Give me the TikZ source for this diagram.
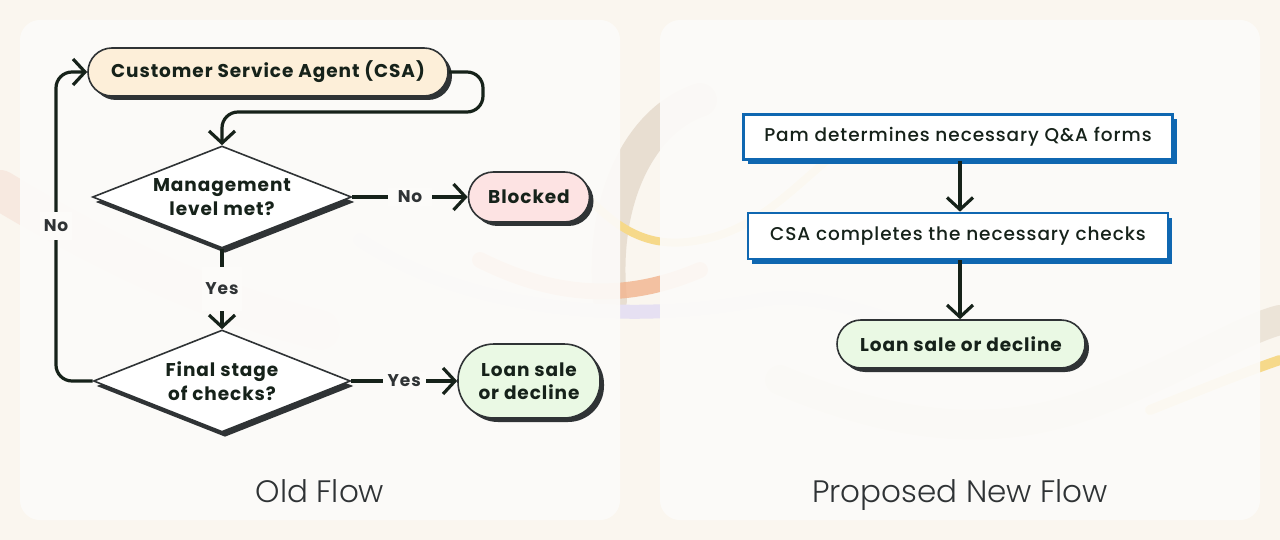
\documentclass[tikz,border=0pt]{standalone}
\usepackage{fontspec}
\setmainfont{Poppins}[LetterSpace=5]
\newfontfamily\titlefont{Poppins Light}
\newfontfamily\medfont{Poppins Medium}[LetterSpace=5]
\usetikzlibrary{shapes.geometric,arrows.meta,shadows}
\definecolor{outerbg}{HTML}{FAF6EF}
\definecolor{panel}{HTML}{FCFBF9}
\definecolor{ink}{HTML}{16221A}
\definecolor{edge}{HTML}{2F3335}
\definecolor{peach}{HTML}{FDEFD9}
\definecolor{pink}{HTML}{FDE3E3}
\definecolor{mint}{HTML}{EAF9E4}
\definecolor{blue}{HTML}{0F67B1}
\definecolor{tan}{HTML}{E4D8CA}
\definecolor{sun}{HTML}{F6D98A}
\definecolor{coral}{HTML}{F2B48E}
\definecolor{lilac}{HTML}{E6E0F2}
\definecolor{blush}{HTML}{F6E4DA}
\tikzset{
  txt/.style={font=\fontsize{18.5}{23.5}\selectfont\bfseries, text=ink, align=center},
  pill/.style={txt, draw=edge, line width=1.6pt, inner sep=0pt,
    general shadow={fill=edge, shadow xshift=4pt, shadow yshift=-4pt}},
  dia/.style={txt, diamond, draw=edge, line width=1.6pt, fill=white, inner sep=0pt, aspect=2.5,
    general shadow={fill=edge, shadow xshift=3pt, shadow yshift=-5pt}},
  bluebox/.style={txt, font=\fontsize{18.5}{22}\selectfont\medfont, draw=blue, line width=2.6pt, fill=white, inner sep=0pt,
    general shadow={fill=blue, shadow xshift=4pt, shadow yshift=-5pt}},
  conn/.style={draw=ink, line width=3.2pt},
  arr/.style={conn, -{Straight Barb[length=12pt,width=26pt,line width=3.2pt]}},
  lab/.style={font=\fontsize{17}{20}\selectfont\bfseries, text=edge, fill=panel, inner ysep=3pt},
  title/.style={font=\fontsize{31}{36}\selectfont\titlefont, text=edge, anchor=base}
}
\begin{document}
\begin{tikzpicture}[x=1pt,y=-1pt]
\useasboundingbox (0,0) rectangle (1280,540);
\fill[outerbg] (0,0) rectangle (1280,540);
% background swirls
\begin{scope}[line cap=round]
\draw[tan, line width=34pt, opacity=0.8] (610,300) .. controls (600,200) and (640,120) .. (700,100);
\draw[sun, line width=8pt] (590,200) .. controls (620,230) and (650,250) .. (700,240) .. controls (760,230) and (800,180) .. (840,150);
\draw[coral, line width=16pt, opacity=0.8] (480,260) .. controls (560,300) and (630,300) .. (700,270);
\draw[lilac, line width=14pt] (360,240) .. controls (450,300) and (600,330) .. (760,300) .. controls (820,290) and (880,320) .. (930,330);
\draw[blush, line width=40pt, opacity=0.7] (0,190) .. controls (100,250) and (200,300) .. (320,330);
\draw[tan, line width=30pt, opacity=0.6] (780,380) .. controls (900,430) and (1000,440) .. (1100,400) .. controls (1180,370) and (1240,330) .. (1280,320);
\draw[sun, line width=10pt] (1150,410) .. controls (1200,390) and (1250,370) .. (1280,360);
\end{scope}
% panels
\fill[panel, fill opacity=0.93, rounded corners=20pt] (20,20) rectangle (620,520);
\fill[panel, fill opacity=0.93, rounded corners=20pt] (660,20) rectangle (1260,520);

% ---------- Old flow ----------
\node[pill, fill=peach, rounded corners=24pt, minimum width=360pt, minimum height=48pt] (csa) at (268,72) {Customer Service Agent (CSA)};
\node[dia, minimum width=259pt, minimum height=102pt] (d1) at (222,197) {Management\\level met?};
\node[pill, fill=pink, rounded corners=25pt, minimum width=121pt, minimum height=50pt] (blk) at (529,197) {Blocked};
\node[dia, minimum width=257pt, minimum height=102pt] (d2) at (222,381) {Final stage\\of checks?};
\node[pill, fill=mint, rounded corners=36pt, minimum width=142pt, minimum height=74pt] (loan) at (529,381) {Loan sale\\or decline};

\draw[arr, rounded corners=16pt] (csa.east) -- (483,72) -- (483,112) -- (222,112) -- (d1.north);
\draw[arr] (d1.east) -- node[lab, inner xsep=10pt] {No} (blk.west);
\draw[arr] (d1.south) -- node[lab, inner ysep=16pt] {Yes} (d2.north);
\draw[arr] (d2.east) -- node[lab, inner xsep=5pt] {Yes} (loan.west);
\draw[arr, rounded corners=16pt] (d2.west) -- (56,381) -- (56,72) -- (csa.west);
\node[lab, inner ysep=8pt] (nolab) at (56,226) {No};

\node[title] (t1) at (320,502) {Old Flow};

% ---------- Proposed new flow ----------
\node[bluebox, minimum width=429pt, minimum height=45pt] (b1) at (958,137) {Pam determines necessary Q\&A forms};
\node[bluebox, minimum width=420pt, minimum height=46pt] (b2) at (958,236) {CSA completes the necessary checks};
\node[pill, fill=mint, rounded corners=24pt, minimum width=248pt, minimum height=48pt] (loan2) at (961,344) {Loan sale or decline};
\draw[arr] (b1.south -| 960,0) -- (b2.north -| 960,0);
\draw[arr] (b2.south -| 960,0) -- (loan2.north -| 960,0);

\node[title] (t2) at (960,502) {Proposed New Flow};
\end{tikzpicture}
\end{document}
